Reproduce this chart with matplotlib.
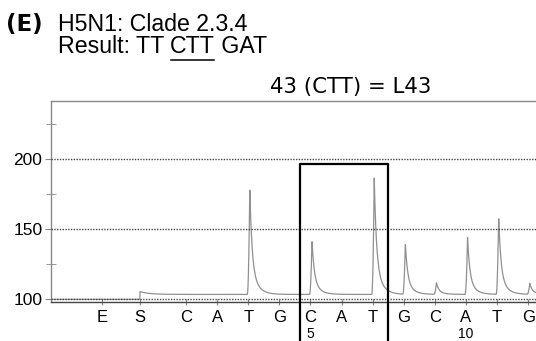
import numpy as np
import matplotlib
matplotlib.use("Agg")
import matplotlib.pyplot as plt
from matplotlib.lines import Line2D
from matplotlib.transforms import blended_transform_factory

# ---- data ----
disp_labels = ["E", "S", "C", "A", "T", "G", "C", "A", "T", "G", "C", "A", "T", "G"]
disp_pos = [-1.69, -0.48, 1, 2, 3, 4, 5, 6, 7, 8, 9, 10, 11, 12]
# peak heights above baseline (signal units)
peak_heights = [0, 0, 0, 0, 75.5, 0, 38.7, 0, 82.9, 36.4, 8.3, 40.7, 55.3, 7.9]
baseline_before = 100.0
baseline_after = 103.5
s_bump = 2.0
number_labels = {5: "5", 10: "10"}
yticks_major = [100, 150, 200]
yticks_minor = [125, 175, 225]
box_range = (4.66, 7.50, 196.4)

W, H = 536, 341
fig = plt.figure(figsize=(W / 100, H / 100), dpi=100)
ax_left = 50.7 / W
ax_bottom = (H - 302) / H
ax_top = (H - 101) / H
ax = fig.add_axes([ax_left, ax_bottom, 1 - ax_left, ax_top - ax_bottom])

xlim = (-3.35, 12.25)
ylim = (98.1, 241.3)

# trace built from the peak heights
x = np.linspace(xlim[0], xlim[1], 4000)
s_x = disp_pos[1]
y = np.where(x < s_x, baseline_before, baseline_after)
t_s = x - s_x
y = y + np.where(t_s >= 0, s_bump * np.exp(-t_s / 0.3), 0)
for p, h in zip(disp_pos, peak_heights):
    if h <= 0:
        continue
    c = p + 0.05
    t = x - c
    rise = np.where((t < 0) & (t > -0.08), h * (1 + t / 0.08) ** 2, 0)
    decay = np.where(t >= 0, h * (0.7 * np.exp(-t / 0.07) + 0.3 * np.exp(-t / 0.2)), 0)
    y = y + rise + decay

grid_kw = dict(color="#444444", lw=1.0, ls=(0, (1, 1)))
for v in yticks_major:
    ax.axhline(v, zorder=3, **grid_kw)

ax.plot(x, y, color="#909090", lw=0.9, zorder=2)

# box around the codon
bx0, bx1, btop = box_range
ax.plot([bx0, bx0, bx1, bx1], [60, btop, btop, 60], color="black", lw=1.6,
        clip_on=False, zorder=5)

ax.set_xlim(*xlim)
ax.set_ylim(*ylim)

tick_font = dict(family="Liberation Sans", fontsize=12.5)
ax.set_yticks(yticks_major)
ax.set_yticklabels([str(v) for v in yticks_major], **tick_font)
ax.set_yticks(yticks_minor, minor=True)
ax.tick_params(axis="y", which="major", direction="out", length=4, color="#888888", pad=2)
ax.tick_params(axis="y", which="minor", direction="inout", length=7, color="#888888")

ax.set_xticks(disp_pos)
ax.set_xticklabels(disp_labels, family="Liberation Sans", fontsize=12)
ax.tick_params(axis="x", direction="inout", length=5, color="#888888", pad=3.5)

for sp in ["left", "top"]:
    ax.spines[sp].set_color("#888888")
    ax.spines[sp].set_linewidth(1.0)
ax.spines["right"].set_visible(False)
ax.spines["bottom"].set_color("#444444")
ax.spines["bottom"].set_linestyle((0, (1, 1)))
ax.spines["bottom"].set_linewidth(1.0)

# numbers under positions
bt = blended_transform_factory(ax.transData, fig.transFigure)
for k, lab in number_labels.items():
    ax.text(k, 2.5 / H, lab, transform=bt, ha="center", va="baseline",
            clip_on=False, family="Liberation Sans", fontsize=10)

# titles
fig.text(270 / W, (H - 93.3) / H, "43 (CTT) = L43", family="DejaVu Sans",
         fontsize=15.3, ha="left", va="baseline")
fig.text(6 / W, (H - 30.7) / H, "(E)", family="DejaVu Sans", weight="bold",
         fontsize=16.5, ha="left", va="baseline")
fig.text(57.5 / W, (H - 30.7) / H, "H5N1: Clade 2.3.4", family="Liberation Sans",
         fontsize=16.7, ha="left", va="baseline")

y2 = (H - 53.3) / H
t1 = fig.text(57.5 / W, y2, "Result: TT ", family="Liberation Sans", fontsize=16.7,
              ha="left", va="baseline")
fig.canvas.draw()
r = fig.canvas.get_renderer()
bb1 = t1.get_window_extent(r)
t2 = fig.text(bb1.x1 / W, y2, "CTT", family="Liberation Sans", fontsize=16.7,
              ha="left", va="baseline")
bb2 = t2.get_window_extent(r)
t3 = fig.text(bb2.x1 / W, y2, " GAT", family="Liberation Sans", fontsize=16.7,
              ha="left", va="baseline")
uy = (H - 60) / H
fig.add_artist(Line2D([bb2.x0 / W + 0.002, bb2.x1 / W - 0.002], [uy, uy],
                      transform=fig.transFigure, color="black", lw=1.1))

fig.savefig("out.png", dpi=100)
